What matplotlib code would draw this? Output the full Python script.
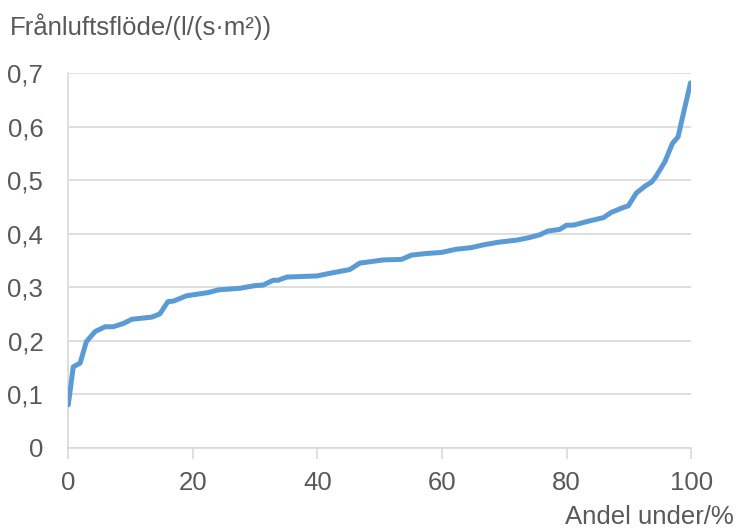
import matplotlib.pyplot as plt
from matplotlib.ticker import FuncFormatter

# Andel under (%) and frånluftsflöde l/(s·m²)
andel = [0, 0.8, 1.9, 2.9, 4.3, 5.9, 7.2, 8.8, 10.2, 13.4, 14.7, 16.0, 16.9,
         19.0, 22.5, 24.1, 27.6, 30.0, 31.3, 32.9, 33.7, 35.1, 39.9, 42.0,
         45.2, 46.8, 50.6, 53.5, 55.1, 57.5, 59.9, 62.3, 64.7, 66.6, 69.0,
         72.0, 74.1, 75.7, 77.0, 78.9, 80.0, 81.1, 83.7, 85.9, 87.2, 89.1,
         89.9, 91.2, 92.6, 93.7, 94.4, 95.8, 97.0, 97.9, 98.7, 99.9]
flode = [0.080, 0.151, 0.158, 0.198, 0.217, 0.226, 0.226, 0.232, 0.240, 0.244,
         0.250, 0.273, 0.274, 0.284, 0.290, 0.295, 0.298, 0.303, 0.304, 0.313,
         0.313, 0.319, 0.321, 0.326, 0.333, 0.345, 0.351, 0.352, 0.360, 0.363,
         0.365, 0.371, 0.374, 0.379, 0.384, 0.388, 0.393, 0.398, 0.405, 0.408,
         0.416, 0.416, 0.424, 0.430, 0.440, 0.449, 0.452, 0.476, 0.489, 0.497,
         0.508, 0.535, 0.569, 0.581, 0.622, 0.682]

xticks = [0, 20, 40, 60, 80, 100]
yticks = [0, 0.1, 0.2, 0.3, 0.4, 0.5, 0.6, 0.7]

plt.rcParams['font.family'] = ['Liberation Sans', 'DejaVu Sans']
txt = '#595959'
grid = '#D9D9D9'
fs = 18.5

fig = plt.figure(figsize=(7.38, 5.31), dpi=100)
ax = fig.add_axes([0.0925, 0.157, 0.844, 0.705])

ax.plot(andel, flode, color='#5B9BD5', lw=3.6, solid_joinstyle='round',
        solid_capstyle='round', zorder=3)

ax.set_xlim(0, 100)
ax.set_ylim(0, 0.7)
ax.set_xticks(xticks)
ax.set_yticks(yticks)

def komma(v, pos):
    if abs(v) < 1e-9:
        return '0'
    return ('%.1f' % v).replace('.', ',')

ax.yaxis.set_major_formatter(FuncFormatter(komma))
ax.xaxis.set_major_formatter(FuncFormatter(lambda v, p: '%d' % v))

ax.grid(axis='y', color=grid, lw=1.2)
ax.set_axisbelow(True)
for s in ['top', 'right']:
    ax.spines[s].set_visible(False)
ax.spines['left'].set_color(grid)
ax.spines['bottom'].set_color(grid)
ax.spines['left'].set_linewidth(1.2)
ax.spines['bottom'].set_linewidth(1.2)

ax.tick_params(axis='y', length=0, pad=18, labelsize=fs, labelcolor=txt)
ax.tick_params(axis='x', length=8, width=1.2, color=grid, direction='out',
               pad=9, labelsize=fs, labelcolor=txt)

fig.text(10 / 738, 1 - 27 / 531, 'Frånluftsflöde/(l/(s·m²))', fontsize=fs,
         color=txt, ha='left', va='center')
fig.text(734 / 738, 1 - 517 / 531, 'Andel under/%', fontsize=fs,
         color=txt, ha='right', va='center')

plt.savefig('out.png', dpi=100)
